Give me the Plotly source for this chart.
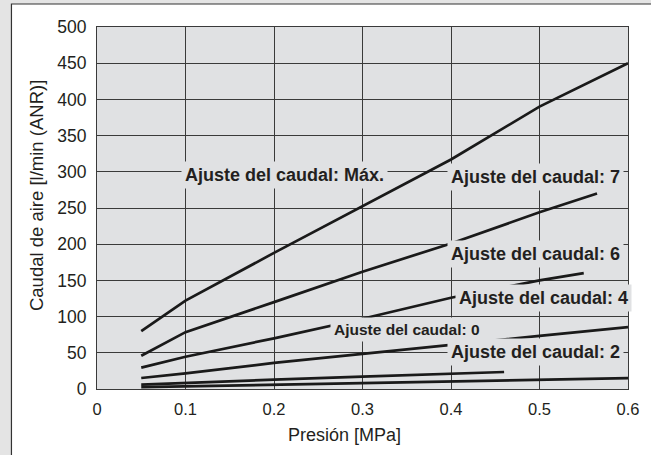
import plotly.graph_objects as go

# ---- data ----
x_full = [0.05, 0.1, 0.2, 0.3, 0.4, 0.5, 0.6]
y_max = [80, 122, 188, 253, 317, 390, 450]
x_7 = [0.05, 0.1, 0.2, 0.3, 0.4, 0.5, 0.565]
y_7 = [46, 78.5, 120, 162, 201, 244, 270]
x_6 = [0.05, 0.1, 0.2, 0.3, 0.4, 0.5, 0.55]
y_6 = [29.5, 44.5, 70, 97, 126, 150, 160]
y_4 = [15.2, 21.5, 36, 48, 61, 73.5, 85.5]
x_2 = [0.05, 0.1, 0.2, 0.3, 0.4, 0.46]
y_2 = [6, 8.5, 13, 17, 21, 23.5]
y_0 = [2.5, 3.6, 6, 8, 10.5, 12.8, 15]

series = [
    ("Máx.", x_full, y_max),
    ("7", x_7, y_7),
    ("6", x_6, y_6),
    ("4", x_full, y_4),
    ("2", x_2, y_2),
    ("0", x_full, y_0),
]

# label texts and positions (data coordinates)
label_texts = ["Ajuste del caudal: Máx.", "Ajuste del caudal: 7", "Ajuste del caudal: 6",
               "Ajuste del caudal: 4", "Ajuste del caudal: 0", "Ajuste del caudal: 2"]
label_x = [0.2115, 0.4955, 0.4955, 0.5045, 0.3505, 0.4955]
label_y = [295, 293, 186, 126, 82, 51]
label_size = [18, 18, 18, 18, 15.5, 18]

x_ticks = [0, 0.1, 0.2, 0.3, 0.4, 0.5, 0.6]
x_ticktext = ["0", "0.1", "0.2", "0.3", "0.4", "0.5", "0.6"]
y_ticks = list(range(0, 501, 50))

x_title = "Presión [MPa]"
y_title = "Caudal de aire [l/min (ANR)]"

PLOT_BG = "#e0e1e3"
INK = "#231f20"
FONT = "Liberation Sans, Arial, sans-serif"

fig = go.Figure()
for name, xs, ys in series:
    fig.add_trace(go.Scatter(x=xs, y=ys, mode="lines", name=name,
                             line=dict(color="#1a1a1a", width=2.7),
                             showlegend=False, hoverinfo="skip"))

for t, lx, ly, fs in zip(label_texts, label_x, label_y, label_size):
    fig.add_annotation(x=lx, y=ly, xref="x", yref="y", text="<b>%s</b>" % t,
                       showarrow=False, bgcolor=PLOT_BG, borderpad=3,
                       font=dict(family=FONT, size=fs, color=INK))

# axis titles as annotations (paper coordinates)
fig.add_annotation(x=(349 - 97) / 540, y=(389 - 435) / 362, xref="paper", yref="paper",
                   text=x_title, showarrow=False, xanchor="center", yanchor="middle",
                   font=dict(family=FONT, size=18, color=INK))
fig.add_annotation(x=(35 - 97) / 540, y=(389 - 196) / 362, xref="paper", yref="paper",
                   text=y_title, showarrow=False, textangle=-90, xanchor="center", yanchor="middle",
                   font=dict(family=FONT, size=18.5, color=INK))

# outer frame and plot-area background as shapes
fig.add_shape(type="rect", xref="paper", yref="paper", layer="below",
              x0=(10 - 97) / 540, x1=(700 - 97) / 540,
              y0=(389 - 500) / 362, y1=(389 - 4) / 362,
              fillcolor="white", line=dict(color="#333333", width=1.2))
fig.add_shape(type="rect", xref="paper", yref="paper", layer="below",
              x0=0, x1=1, y0=0, y1=1, fillcolor=PLOT_BG, line=dict(width=0))

axis_common = dict(showgrid=True, gridcolor="#3a3a3a", gridwidth=1.1,
                   showline=True, linecolor="#3a3a3a", linewidth=1.1, mirror=True,
                   zeroline=False, ticks="")

fig.update_xaxes(range=[0, 0.6], tickvals=x_ticks, ticktext=x_ticktext,
                 tickfont=dict(family=FONT, size=16.5, color=INK),
                 ticklabelstandoff=5, **axis_common)
fig.update_yaxes(range=[0, 500], tickvals=y_ticks,
                 tickfont=dict(family=FONT, size=17.5, color=INK),
                 ticklabelstandoff=6, **axis_common)

fig.update_layout(width=651, height=455, autosize=False,
                  margin=dict(l=97, r=14, t=27, b=66),
                  paper_bgcolor="#e4e4e4", plot_bgcolor=PLOT_BG,
                  font=dict(family=FONT, color=INK))

fig.write_html("out.html")
